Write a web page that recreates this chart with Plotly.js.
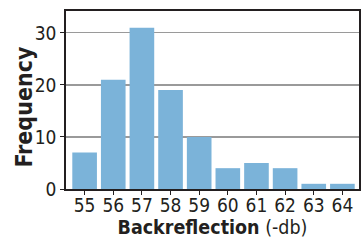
<!DOCTYPE html>
<html><head><meta charset="utf-8">
<script src="https://cdn.plot.ly/plotly-3.0.1.min.js"></script>
<style>html,body{margin:0;padding:0;background:#fff}#c{width:362px;height:243px}</style>
</head><body><div id="c"></div>
<script>
const categories = [55, 56, 57, 58, 59, 60, 61, 62, 63, 64];
const frequency = [7, 21, 31, 19, 10, 4, 5, 4, 1, 1];
const yTicks = [0, 10, 20, 30];
const xTitle = '<b>Backreflection</b> (-db)';
const yTitle = '<b>Frequency</b>';

const font = "'DejaVu Sans Condensed', 'Liberation Sans Narrow', sans-serif";
const ink = '#231f20';

Plotly.newPlot('c', [{
  type: 'bar', x: categories, y: frequency,
  marker: {color: '#7bb3d9', line: {width: 0}},
  hoverinfo: 'none'
}], {
  width: 362, height: 243,
  margin: {l: 66, r: 3, t: 11, b: 54},
  paper_bgcolor: '#fff', plot_bgcolor: '#fff',
  bargap: 0.14,
  showlegend: false,
  font: {family: font, color: ink, size: 19},
  xaxis: {
    range: [54.35, 64.58], tickvals: categories, ticktext: categories.map(String),
    ticks: 'outside', ticklen: 4, tickwidth: 1, tickcolor: ink,
    ticklabelstandoff: -6,
    showline: true, linecolor: ink, linewidth: 1.8, mirror: true,
    showgrid: false, zeroline: false,
    tickfont: {family: font, size: 19, color: ink},
    title: {text: xTitle, font: {family: font, size: 19.5, color: ink}, standoff: 5}
  },
  yaxis: {
    range: [0, 34.2], tickvals: yTicks,
    ticks: 'outside', ticklen: 4, tickwidth: 1, tickcolor: ink,
    showline: true, linecolor: ink, linewidth: 1.8, mirror: true,
    showgrid: true, gridcolor: '#9a9a9a', gridwidth: 1.2, zeroline: false,
    tickfont: {family: font, size: 19, color: ink}
  },
  annotations: [{
    text: yTitle, xref: 'paper', yref: 'paper', x: -0.143, y: 0.458,
    xanchor: 'center', yanchor: 'middle', textangle: -90, showarrow: false,
    font: {family: font, size: 23, color: ink}
  }]
}, {staticPlot: true});
</script></body></html>
